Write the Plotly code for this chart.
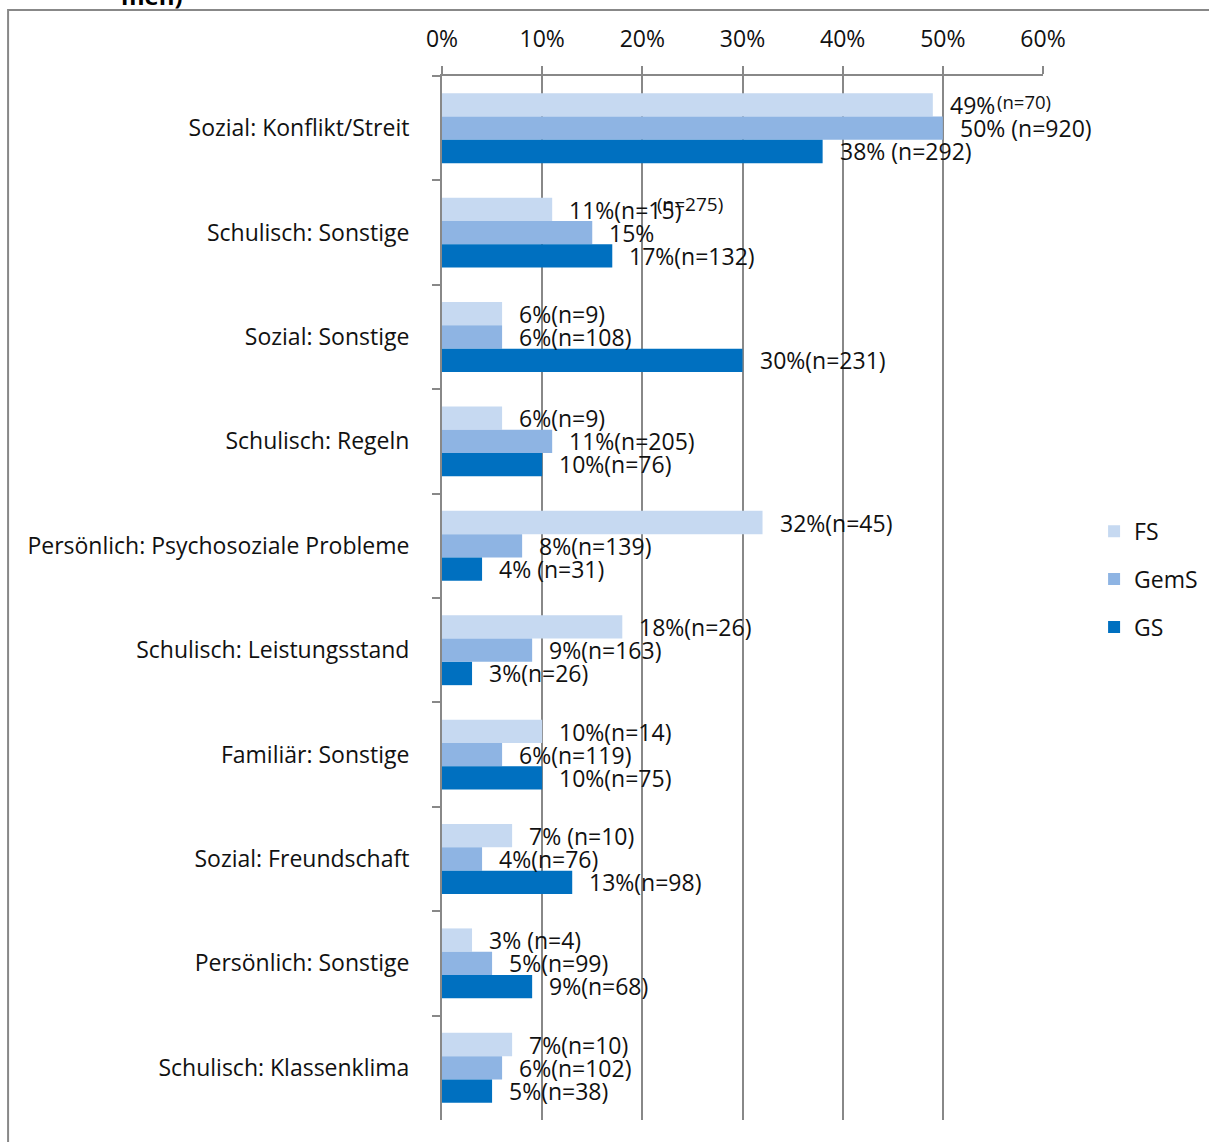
import plotly.graph_objects as go

categories = [
    "Sozial: Konflikt/Streit",
    "Schulisch: Sonstige",
    "Sozial: Sonstige",
    "Schulisch: Regeln",
    "Persönlich: Psychosoziale Probleme",
    "Schulisch: Leistungsstand",
    "Familiär: Sonstige",
    "Sozial: Freundschaft",
    "Persönlich: Sonstige",
    "Schulisch: Klassenklima",
]
series_names = ["FS", "GemS", "GS"]
fs_values = [49, 11, 6, 6, 32, 18, 10, 7, 3, 7]
gems_values = [50, 15, 6, 11, 8, 9, 6, 4, 5, 6]
gs_values = [38, 17, 30, 10, 4, 3, 10, 13, 9, 5]
fs_labels = ["49%", "11%(n=15)", "6%(n=9)", "6%(n=9)", "32%(n=45)", "18%(n=26)",
             "10%(n=14)", "7% (n=10)", "3% (n=4)", "7%(n=10)"]
gems_labels = ["50% (n=920)", "15%", "6%(n=108)", "11%(n=205)", "8%(n=139)", "9%(n=163)",
               "6%(n=119)", "4%(n=76)", "5%(n=99)", "6%(n=102)"]
gs_labels = ["38% (n=292)", "17%(n=132)", "30%(n=231)", "10%(n=76)", "4% (n=31)", "3%(n=26)",
             "10%(n=75)", "13%(n=98)", "9%(n=68)", "5%(n=38)"]
# displaced parts of labels as in the original
extra_labels = [
    ("FS", 0, "(n=70)"),
    ("GemS", 1, "(n=275)"),
]
x_tick_values = [0, 10, 20, 30, 40, 50, 60]
x_tick_labels = ["0%", "10%", "20%", "30%", "40%", "50%", "60%"]
title_fragment = "men)"

colors = {"FS": "#C6D9F1", "GemS": "#8EB4E3", "GS": "#0070C0"}
FONT = "Open Sans"
FS_SIZE = 23
TXT = "#111111"
GREY = "#888888"

values = {"FS": fs_values, "GemS": gems_values, "GS": gs_values}
labels = {"FS": fs_labels, "GemS": gems_labels, "GS": gs_labels}
shifts = {"FS": 23, "GemS": 0, "GS": -23}

fig = go.Figure()
for i, name in enumerate(series_names):
    fig.add_trace(go.Bar(
        name=name, y=categories, x=values[name], orientation="h",
        marker=dict(color=colors[name], line=dict(width=0)),
        legendgroup=name,
    ))

annotations = []
for name in series_names:
    for cat, v, lab in zip(categories, values[name], labels[name]):
        annotations.append(dict(
            x=v, y=cat, xref="x", yref="y", text=lab, showarrow=False,
            xanchor="left", yanchor="middle", xshift=15, yshift=shifts[name],
            font=dict(family=FONT, size=FS_SIZE, color=TXT),
        ))

for name, idx, txt in extra_labels:
    v = values[name][idx]
    if name == "FS":
        xs, ys, sz = 15 + 47, shifts[name] + 4, 18.5
    else:
        xs, ys, sz = 63, shifts[name] + 29, 19
    annotations.append(dict(
        x=v, y=categories[idx], xref="x", yref="y", text=txt, showarrow=False,
        xanchor="left", yanchor="middle", xshift=xs, yshift=ys,
        font=dict(family=FONT, size=sz, color=TXT),
    ))

annotations.append(dict(
    x=-0.4825, y=1.0593, xref="paper", yref="paper", text="<b>" + title_fragment + "</b>",
    showarrow=False, xanchor="center", yanchor="bottom",
    font=dict(family=FONT, size=24, color="#000000"),
))

fig.update_layout(
    width=1209, height=1142,
    margin=dict(l=442, r=166, t=76, b=22, autoexpand=False),
    paper_bgcolor="white", plot_bgcolor="white",
    barmode="group", bargap=0.33, bargroupgap=0,
    font=dict(family=FONT, size=FS_SIZE, color=TXT),
    annotations=annotations,
    legend=dict(
        x=1.085, y=0.518, xanchor="left", yanchor="middle",
        font=dict(family=FONT, size=FS_SIZE, color=TXT),
        tracegroupgap=15, itemwidth=30, bgcolor="rgba(0,0,0,0)",
    ),
    xaxis=dict(
        side="top", range=[0, 60], tickvals=x_tick_values, ticktext=x_tick_labels,
        showgrid=True, gridcolor=GREY, gridwidth=2,
        showline=True, linecolor=GREY, linewidth=2,
        ticks="outside", ticklen=8, tickcolor=GREY, tickwidth=2,
        ticklabelstandoff=10, zeroline=False,
        tickfont=dict(family=FONT, size=FS_SIZE, color=TXT),
    ),
    yaxis=dict(
        autorange="reversed", showgrid=False, zeroline=False,
        showline=True, linecolor=GREY, linewidth=2,
        ticks="outside", ticklen=8, tickcolor=GREY, tickwidth=2,
        tickson="boundaries", ticklabelstandoff=26,
        tickfont=dict(family=FONT, size=FS_SIZE, color=TXT),
    ),
    shapes=[dict(
        type="rect", xref="paper", yref="paper",
        x0=-0.722, x1=1.6, y0=-0.1, y1=1.0632,
        line=dict(color=GREY, width=2), fillcolor="rgba(0,0,0,0)", layer="below",
    )],
)

fig.write_html(
    "out.html",
    config={"displayModeBar": False},
    post_script="document.body.style.margin='0';document.body.style.overflow='hidden';",
)
